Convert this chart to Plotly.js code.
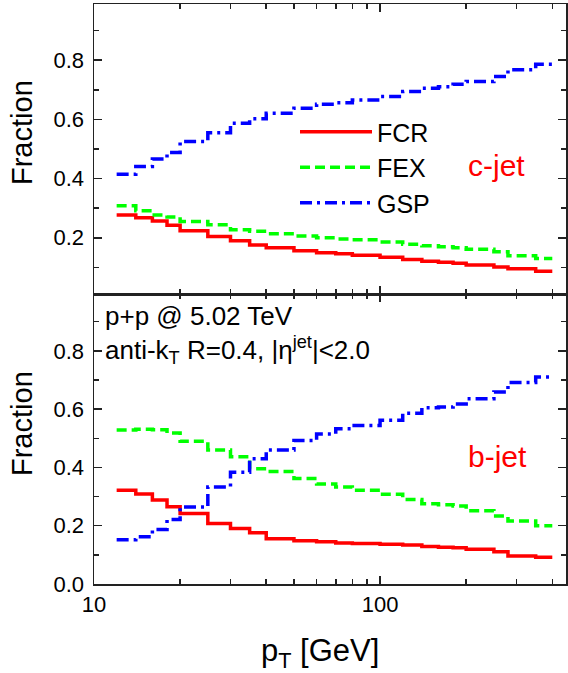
<!DOCTYPE html>
<html><head><meta charset="utf-8">
<script src="https://cdn.plot.ly/plotly-3.0.1.min.js"></script>
<style>html,body{margin:0;padding:0;background:#fff}</style>
</head><body><div id="chart" style="width:568px;height:673px"></div>
<script>
// pT bin edges [GeV]
const ptEdges = [12,14,16,18,20,25,30,35,40,50,60,70,80,100,120,140,160,180,200,250,280,350,400];
// c-jet fractions per bin
const cFCR = [0.277,0.268,0.257,0.242,0.224,0.204,0.190,0.176,0.166,0.156,0.149,0.146,0.141,0.134,0.127,0.121,0.117,0.114,0.108,0.101,0.095,0.087];
const cFEX = [0.308,0.291,0.277,0.270,0.255,0.244,0.227,0.222,0.214,0.206,0.200,0.196,0.193,0.186,0.178,0.173,0.170,0.166,0.161,0.153,0.139,0.130];
const cGSP = [0.415,0.441,0.466,0.488,0.525,0.555,0.587,0.602,0.621,0.638,0.651,0.656,0.666,0.677,0.694,0.705,0.710,0.719,0.728,0.745,0.768,0.786];
// b-jet fractions per bin
const bFCR = [0.322,0.309,0.288,0.265,0.242,0.208,0.190,0.176,0.155,0.148,0.145,0.141,0.139,0.136,0.134,0.129,0.126,0.124,0.119,0.111,0.096,0.092];
const bFEX = [0.528,0.531,0.529,0.518,0.490,0.460,0.437,0.395,0.386,0.362,0.343,0.333,0.322,0.308,0.290,0.275,0.272,0.268,0.251,0.233,0.216,0.200];
const bGSP = [0.152,0.162,0.187,0.221,0.264,0.333,0.383,0.430,0.460,0.492,0.515,0.533,0.544,0.562,0.586,0.605,0.607,0.618,0.636,0.659,0.691,0.710];
const seriesNames = ['FCR','FEX','GSP'];
const xTickVals = [10,100];
const xMinorVals = [20,30,40,50,60,70,80,90,200,300,400];
const yTickVals = [0,0.2,0.4,0.6,0.8];
const yMinorVals = [0.1,0.3,0.5,0.7,0.9];

const styles = [
  {color:'rgb(255,0,0)', dash:'solid'},
  {color:'rgb(0,255,0)', dash:'10px,5px'},
  {color:'rgb(0,0,255)', dash:'12px,5px,3px,5px'}
];
function stepY(v){ return v.concat([v[v.length-1]]); }

const traces = [];
[cFCR,cFEX,cGSP].forEach((v,i)=>{
  traces.push({x:ptEdges, y:stepY(v), xaxis:'x2', yaxis:'y2', mode:'lines', name:seriesNames[i],
    line:{shape:'hv', width:3.5, color:styles[i].color, dash:styles[i].dash}, showlegend:true});
});
[bFCR,bFEX,bGSP].forEach((v,i)=>{
  traces.push({x:ptEdges, y:stepY(v), xaxis:'x', yaxis:'y', mode:'lines', name:seriesNames[i],
    line:{shape:'hv', width:3.5, color:styles[i].color, dash:styles[i].dash}, showlegend:false});
});

const font = {family:'Liberation Sans, Arial, sans-serif', color:'#000'};
function xAx(anchor, labels){
  return {type:'log', range:[1,2.65], anchor:anchor, tickmode:'array', tickvals:xTickVals, ticktext:xTickVals.map(String),
    showticklabels:labels, ticks:'inside', ticklen:8, tickwidth:1.5, tickcolor:'#222',
    minor:{tickmode:'array', tickvals:xMinorVals, ticks:'inside', ticklen:5, tickwidth:1.5, tickcolor:'#222'},
    showline:true, linecolor:'#222', linewidth:1.5, mirror:'ticks', showgrid:false, zeroline:false,
    tickfont:{size:22, family:font.family, color:'#000'}};
}
function yAx(domain, range){
  return {domain:domain, range:range, tickmode:'array', tickvals:yTickVals, tickformat:'.1f',
    ticks:'inside', ticklen:8, tickwidth:1.5, tickcolor:'#222',
    minor:{tickmode:'array', tickvals:yMinorVals, ticks:'inside', ticklen:5, tickwidth:1.5, tickcolor:'#222'},
    showline:true, linecolor:'#222', linewidth:1.5, mirror:'ticks', showgrid:false, zeroline:false,
    ticklabelstandoff:4, tickfont:{size:22, family:font.family, color:'#000'}};
}
const X0 = 94, W = 472, Y0 = 4, H = 580;
const px = v => (v - X0)/W, py = v => 1 - (v - Y0)/H;
function ann(text, x, y, size, extra){
  return Object.assign({text:text, xref:'paper', yref:'paper', x:px(x), y:py(y), xanchor:'center', yanchor:'middle',
    showarrow:false, font:{size:size, family:font.family, color:'#000'}}, extra||{});
}

const layout = {
  width:568, height:673, margin:{l:94, r:2, t:4, b:89},
  paper_bgcolor:'#fff', plot_bgcolor:'#fff', font:font,
  xaxis: xAx('y', true),
  xaxis2: Object.assign(xAx('y2', false), {matches:'x'}),
  yaxis: yAx([0,0.5],[0,0.995]),
  yaxis2: yAx([0.5,1],[0.01,0.99]),
  showlegend:true,
  legend:{x:px(295), y:py(109), xanchor:'left', yanchor:'top', bgcolor:'rgba(0,0,0,0)',
    font:{size:25, family:font.family, color:'#000'}, itemwidth:72, tracegroupgap:0},
  annotations:[
    ann('Fraction', 22, 133, 29, {textangle:-90}),
    ann('Fraction', 22, 424, 29, {textangle:-90}),
    ann('p<sub>T</sub> [GeV]', 320, 653, 31),
    ann('c-jet', 496, 165, 30, {font:{size:30, family:font.family, color:'rgb(255,0,0)'}}),
    ann('b-jet', 497, 456, 30, {font:{size:30, family:font.family, color:'rgb(255,0,0)'}}),
    ann('p+p @ 5.02 TeV', 103, 316, 26, {xanchor:'left'}),
    ann('anti-k<sub>T</sub> R=0.4, |η<sup>jet</sup>|&lt;2.0', 103, 350, 26, {xanchor:'left'})
  ]
};
Plotly.newPlot('chart', traces, layout, {staticPlot:true, displayModeBar:false});
</script></body></html>
